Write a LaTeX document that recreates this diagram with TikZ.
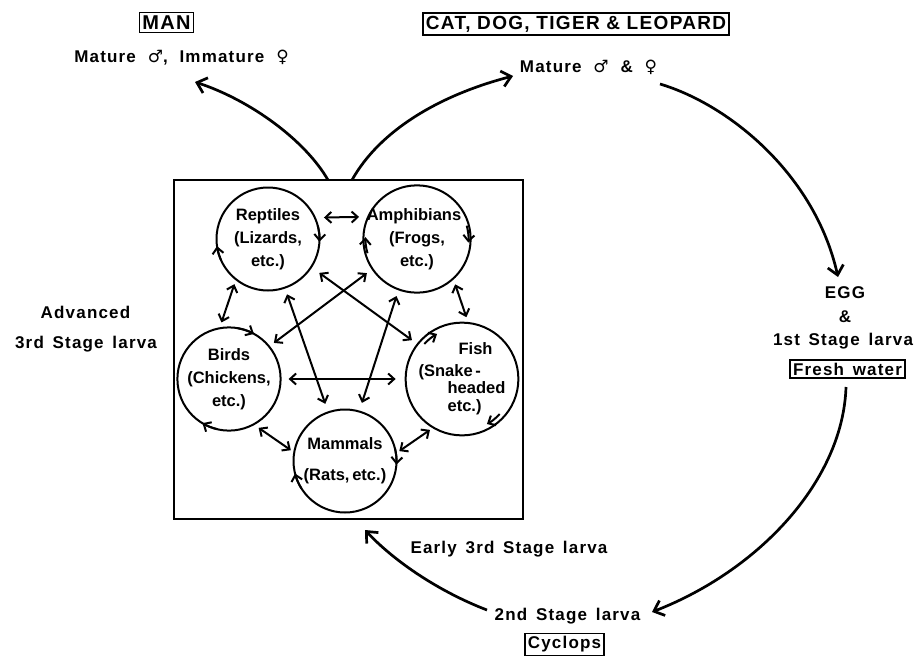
\documentclass[tikz,border=0pt]{standalone}
\usepackage{fontspec}
\setmainfont{Liberation Sans}
\newfontfamily\spaced[LetterSpace=7]{Liberation Sans}
\newfontfamily\symfont{DejaVu Sans}
\newcommand{\malesym}{{\symfont\bfseries ♂}}
\newcommand{\femalesym}{{\symfont\bfseries ♀}}
\usetikzlibrary{arrows.meta,calc}
\begin{document}
\begin{tikzpicture}[x=1pt,y=1pt,
  lbl/.style={font=\spaced\bfseries\fontsize{17}{20}\selectfont, inner sep=0pt, anchor=base},
  tag/.style={draw, line width=1.5pt, inner sep=3pt, font=\spaced\bfseries\fontsize{17}{20}\selectfont},
  host/.style={circle, draw, line width=2pt, minimum size=103pt, inner sep=0pt,
    align=center, font=\bfseries\fontsize{16.5}{23}\selectfont},
  link/.style={line width=2pt, {Straight Barb[length=6pt,width=11pt]}-{Straight Barb[length=6pt,width=11pt]}},
  turn/.style={line width=2pt, -{Straight Barb[length=6pt,width=11pt]}},
  lifearrow/.style={line width=2.7pt, -{Straight Barb[length=9pt,width=16pt]}}
]
\useasboundingbox (0,0) rectangle (923,-661);

% ---------- definitive hosts ----------
\node[tag, font=\spaced\bfseries\fontsize{20}{22}\selectfont] (man) at (166.5,-22.5) {MAN};
\node[lbl] (manmat) at (181.5,-63) {Mature \ \malesym, \ Immature \ \femalesym};
\node[tag, font=\spaced\bfseries\fontsize{19}{24}\selectfont] (cat) at (576,-24) {CAT, DOG, TIGER \& LEOPARD};
\node[lbl] (catmat) at (588.5,-73) {Mature \ \malesym\ \ \&\ \ \femalesym};

% ---------- free-living stages ----------
\node[lbl] (egg) at (845,-298) {EGG};
\node[lbl] (amp1) at (845,-322) {\&};
\node[lbl] (first) at (843,-345) {1st \,Stage \,larva};
\node[tag] (fw) at (847.5,-369) {Fresh \,water};
\node[lbl] (second) at (567.5,-620) {2nd \,Stage \,larva};
\node[tag] (cyc) at (564.5,-644.5) {Cyclops};
\node[lbl] (early) at (509,-553) {Early \,3rd \,Stage \,larva};
\node[lbl] (adv1) at (85.5,-318) {Advanced};
\node[lbl] (adv2) at (86,-348) {3rd \,Stage \,larva};

% ---------- paratenic hosts ----------
\node[draw, line width=2.3pt, minimum width=349pt, minimum height=339pt, inner sep=0pt] (box) at (348.5,-349.5) {};

\node[host] (rep) at (268,-239) {Reptiles\\(Lizards,\\etc.)};
\node[host] (amp) at (417,-239) {\hspace*{-6pt}Amphibians\\(Frogs,\\etc.)};
\node[host] (bir) at (229,-379) {Birds\\(Chickens,\\etc.)};
\node[host, align=left] (fis) at (462,-379) {\hspace*{40pt}Fish\\[-1pt](Snake\,-\\[-6pt]\hspace*{29pt}headed\\[-5pt]\hspace*{29pt}etc.)};
\node[host] (mam) at (345,-461) {Mammals\\[8pt](Rats,\,etc.)};

% transfers between hosts
\draw[link, shorten <=8pt, shorten >=8pt] (rep.24) -- (amp.156);
\draw[link, shorten <=4pt, shorten >=5pt] (rep.232) -- (bir.100);
\draw[link, shorten <=5pt, shorten >=5pt] (amp.312) -- (fis.84);
\draw[link, shorten <=9pt, shorten >=6pt] (rep.327) -- (fis.142);
\draw[link, shorten <=6pt, shorten >=5pt] (amp.214) -- (bir.39);
\draw[link, shorten <=6pt, shorten >=8pt] (rep.289) -- (mam.109);
\draw[link, shorten <=6pt, shorten >=8pt] (amp.250) -- (mam.74);
\draw[link, shorten <=7pt, shorten >=9pt] (bir.0) -- (fis.180);
\draw[link, shorten <=5pt, shorten >=3pt] (bir.299) -- (mam.170);
\draw[link, shorten <=3pt, shorten >=3pt] (fis.239) -- (mam.9);

% circulation within each host
\draw[turn] ($(rep.center)+(205:51.5pt)$) arc[start angle=205, end angle=188, radius=51.5pt];
\draw[turn] ($(rep.center)+(15:51.5pt)$) arc[start angle=15, end angle=-3, radius=51.5pt];
\draw[turn] ($(amp.center)+(196:51.5pt)$) arc[start angle=196, end angle=178, radius=51.5pt];
\draw[turn] ($(amp.center)+(15:51.5pt)$) arc[start angle=15, end angle=-4, radius=51.5pt];
\draw[turn] ($(bir.center)+(80:51.5pt)$) arc[start angle=80, end angle=61, radius=51.5pt];
\draw[turn] ($(bir.center)+(257:51.5pt)$) arc[start angle=257, end angle=239, radius=51.5pt];
\draw[turn] ($(fis.center)+(137:51.5pt)$) arc[start angle=137, end angle=119, radius=51.5pt];
\draw[turn] ($(fis.center)+(317:51.5pt)$) arc[start angle=317, end angle=299, radius=51.5pt];
\draw[turn] ($(mam.center)+(212:51.5pt)$) arc[start angle=212, end angle=194, radius=51.5pt];
\draw[turn] ($(mam.center)+(14:51.5pt)$) arc[start angle=14, end angle=-4, radius=51.5pt];

% ---------- life cycle ----------
\coordinate (toman) at (328,-180);
\coordinate (tocat) at (352,-180);
\coordinate (manend) at (195,-82);
\coordinate (catend) at (513,-76);
\coordinate (eggstart) at (660,-84);
\coordinate (eggend) at (838,-277);
\coordinate (fwstart) at (846,-387);
\coordinate (secend) at (652,-612);
\coordinate (secstart) at (487,-610);
\coordinate (boxend) at (365,-530);

\draw[lifearrow] (toman) .. controls (305,-140) and (250,-100) .. (manend);
\draw[lifearrow] (tocat) .. controls (380,-130) and (440,-95) .. (catend);
\draw[lifearrow] (eggstart) .. controls (730,-105) and (815,-175) .. (eggend);
\draw[lifearrow] (fwstart) .. controls (843,-480) and (760,-570) .. (secend);
\draw[lifearrow] (secstart) .. controls (440,-592) and (395,-562) .. (boxend);
\end{tikzpicture}
\end{document}
